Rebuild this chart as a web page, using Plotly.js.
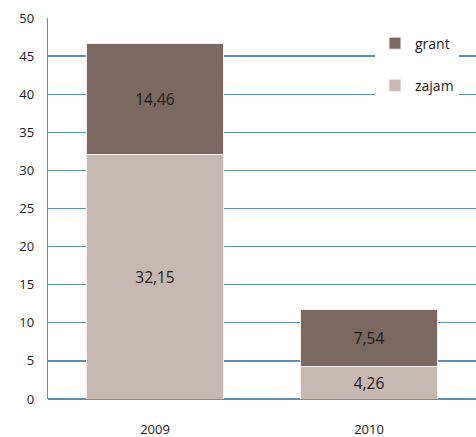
<!DOCTYPE html>
<html>
<head>
<meta charset="utf-8">
<script src="https://cdn.plot.ly/plotly-3.0.1.min.js"></script>
<style>html,body{margin:0;padding:0;background:#fff}#chart{width:476px;height:437px}</style>
</head>
<body>
<div id="chart"></div>
<script>
var years = ['2009', '2010'];
var zajam = [32.15, 4.26];
var grant = [14.46, 7.54];
var seriesNames = ['zajam', 'grant'];
var yTicks = [0, 5, 10, 15, 20, 25, 30, 35, 40, 45, 50];

var txtFont = {family: 'Open Sans, Liberation Sans, sans-serif', size: 15.5, color: '#1a1a1a'};
var traces = [
  {type: 'bar', name: seriesNames[0], x: years, y: zajam, legendgroup: 'zajam', legendrank: 2,
   marker: {color: '#c8b8b2', line: {color: '#f2ecea', width: 1}},
   text: zajam, texttemplate: '%{y:.2f}', textposition: 'inside', insidetextanchor: 'middle',
   textfont: txtFont, hoverinfo: 'none'},
  {type: 'bar', name: seriesNames[1], x: years, y: grant, legendgroup: 'grant', legendrank: 1,
   marker: {color: '#7b6860', line: {color: '#f2ecea', width: 1}},
   text: grant, texttemplate: '%{y:.2f}', textposition: 'inside', insidetextanchor: 'middle',
   textfont: txtFont, hoverinfo: 'none'}
];

var layout = {
  width: 476, height: 437,
  margin: {l: 48, r: 0, t: 18, b: 38},
  paper_bgcolor: '#ffffff', plot_bgcolor: '#ffffff',
  barmode: 'stack', bargap: 0.36,
  separators: ', ',
  showlegend: true,
  uniformtext: {mode: 'show', minsize: 14},
  font: {family: 'Open Sans, Liberation Sans, sans-serif', size: 13, color: '#1a1a1a'},
  xaxis: {type: 'category', showgrid: false, zeroline: false, showline: false,
          ticks: '', tickfont: {size: 13, color: '#1a1a1a'}, ticklabelstandoff: 21},
  yaxis: {range: [0, 50], tickvals: yTicks, showgrid: true, gridcolor: '#5f8fb2', gridwidth: 1.3,
          zeroline: true, zerolinecolor: '#5f8fb2', zerolinewidth: 1.3,
          showline: true, linecolor: '#5f8fb2', linewidth: 1.3,
          ticks: '', tickfont: {size: 13, color: '#1a1a1a'}, ticklabelstandoff: 10},
  legend: {x: 0.764, y: 0.975, xanchor: 'left', yanchor: 'top', bgcolor: '#ffffff',
           traceorder: 'grouped', tracegroupgap: 21, itemwidth: 30,
           font: {size: 14, color: '#1a1a1a'}}
};

Plotly.newPlot('chart', traces, layout, {displayModeBar: false, staticPlot: true});
</script>
</body>
</html>
